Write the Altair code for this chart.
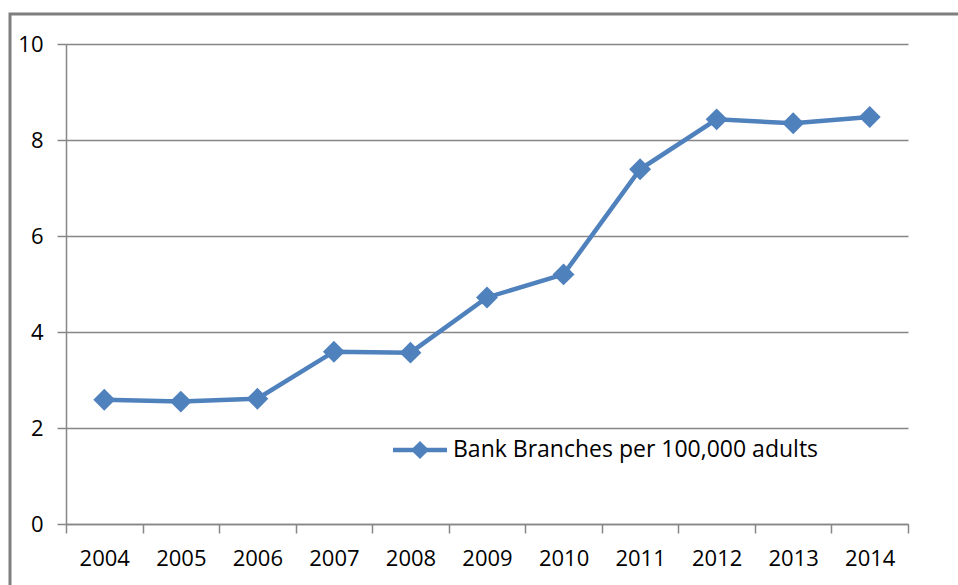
import altair as alt
import pandas as pd

years = ["2004", "2005", "2006", "2007", "2008", "2009", "2010", "2011", "2012", "2013", "2014"]
branches = [2.59, 2.55, 2.61, 3.59, 3.57, 4.72, 5.20, 7.39, 8.43, 8.35, 8.48]
series_name = ["Bank Branches per 100,000 adults"]
y_ticks = [0, 2, 4, 6, 8, 10]

df = pd.DataFrame({"year": years, "value": branches})
one = pd.DataFrame({"label": series_name})

FONT = "Open Sans"
GRAY = "#868686"
BLUE = "#4F81BD"
W, H = 842, 480

x = alt.X("year:O", sort=years, title=None,
          scale=alt.Scale(paddingInner=0, paddingOuter=0),
          axis=alt.Axis(labelAngle=0, labelFont=FONT, labelFontSize=22, labelFontWeight="normal",
                        labelColor="#000000",
                        tickBand="extent", tickSize=9, tickColor=GRAY, tickWidth=1.5,
                        domainColor=GRAY, domainWidth=1.5, labelPadding=15, grid=False))
y = alt.Y("value:Q", title=None,
          scale=alt.Scale(domain=[0, 10]),
          axis=alt.Axis(values=y_ticks, labelFont=FONT, labelFontSize=22, labelFontWeight="normal",
                        labelColor="#000000",
                        tickSize=9, tickColor=GRAY, tickWidth=1.5, domainColor=GRAY, domainWidth=1.5,
                        labelPadding=14, grid=True, gridColor=GRAY, gridWidth=1.5))

frame = alt.Chart(one).mark_rect(fill=None, stroke="#7F7F7F", strokeWidth=3).encode(
    x=alt.value(-56), x2=alt.value(960), y=alt.value(-30), y2=alt.value(600))

line = alt.Chart(df).mark_line(color=BLUE, strokeWidth=4.5).encode(x=x, y=y)
pts = alt.Chart(df).mark_point(shape="diamond", filled=True, color=BLUE, size=480, opacity=1).encode(x=x, y=y)

leg_line = alt.Chart(one).mark_rule(color=BLUE, strokeWidth=4.5).encode(
    x=alt.value(327), x2=alt.value(381), y=alt.value(406))
leg_pt = alt.Chart(one).mark_point(shape="diamond", filled=True, color=BLUE, size=330, opacity=1).encode(
    x=alt.value(354), y=alt.value(406))
leg_text = alt.Chart(one).mark_text(font=FONT, fontSize=23, fontWeight="normal",
                                    align="left", baseline="middle", color="#000000").encode(
    text="label:N", x=alt.value(387), y=alt.value(406))

chart = alt.layer(frame, line, pts, leg_line, leg_pt, leg_text).properties(
    width=W, height=H,
    autosize=alt.AutoSizeParams(type="none"),
    padding={"left": 66, "top": 44, "right": 50, "bottom": 61},
    background="#FFFFFF",
).configure_view(stroke=None)

chart.save("out.html", embed_options={"renderer": "svg", "actions": False})
